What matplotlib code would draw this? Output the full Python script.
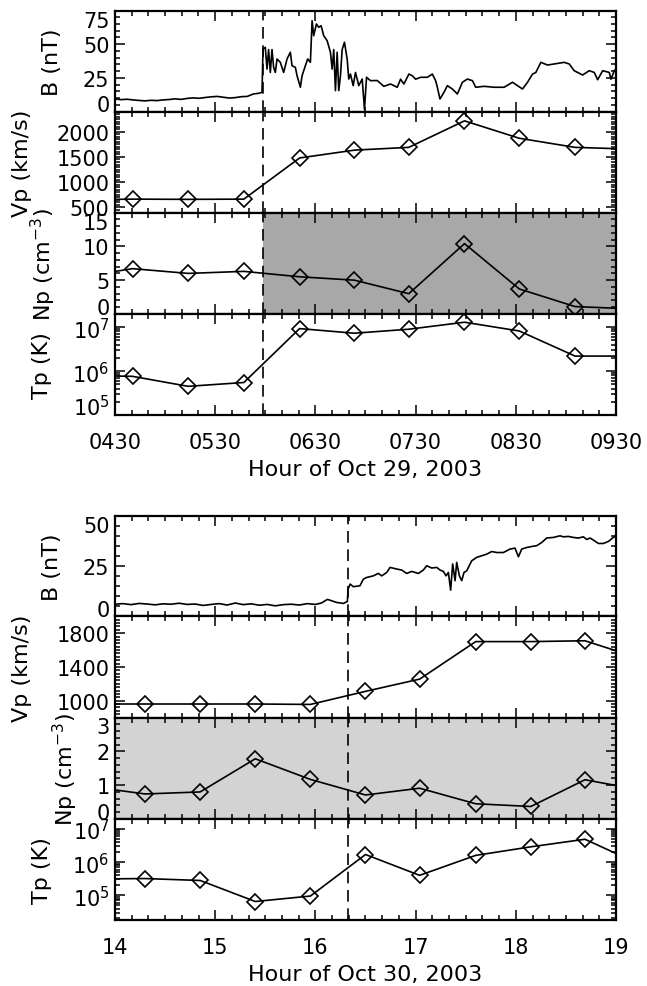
import numpy as np
import matplotlib
matplotlib.use("Agg")
import matplotlib.pyplot as plt
from matplotlib.ticker import FixedLocator, MultipleLocator, LogLocator, NullFormatter, FuncFormatter

plt.rcParams['font.family'] = ['DejaVu Sans']
plt.rcParams['mathtext.fontset'] = 'dejavusans'

# ---------------- Oct 29, 2003 ----------------
b1_t = [4.50, 4.56, 4.62, 4.68, 4.74, 4.80, 4.86, 4.92, 4.98, 5.04, 5.10, 5.16, 5.22, 5.28,
        5.34, 5.40, 5.46, 5.52, 5.58, 5.64, 5.70, 5.76, 5.82, 5.88, 5.94, 5.967, 5.977, 6.000,
        6.017, 6.033, 6.050, 6.067, 6.083, 6.100, 6.117, 6.150, 6.183, 6.217, 6.250, 6.267,
        6.300, 6.317, 6.350, 6.367, 6.400, 6.423, 6.450, 6.467, 6.483, 6.510, 6.533, 6.557,
        6.583, 6.617, 6.650, 6.667, 6.683, 6.700, 6.717, 6.733, 6.750, 6.767, 6.790, 6.817,
        6.833, 6.850, 6.877, 6.900, 6.933, 6.967, 6.990, 7.010, 7.050, 7.117, 7.183, 7.250,
        7.317, 7.350, 7.383, 7.433, 7.467, 7.500, 7.550, 7.617, 7.667, 7.700, 7.717, 7.743,
        7.783, 7.817, 7.867, 7.917, 7.967, 8.017, 8.067, 8.100, 8.183, 8.283, 8.383, 8.467,
        8.517, 8.567, 8.617, 8.667, 8.700, 8.750, 8.817, 8.883, 8.983, 9.033, 9.083, 9.167,
        9.233, 9.283, 9.317, 9.367, 9.433, 9.450, 9.483, 9.500]
b1_v = [9.3, 8.8, 9.1, 8.6, 8.2, 7.9, 8.3, 8.1, 8.6, 8.9, 9.4, 9.0, 9.7, 10.1,
        9.8, 10.4, 10.9, 11.2, 10.6, 10.0, 10.3, 11.0, 11.2, 13.0, 13.6, 14.2, 46.4, 47.6,
        31.5, 46.0, 29.0, 46.0, 32.8, 29.0, 39.0, 36.5, 29.0, 39.0, 44.0, 34.0,
        32.8, 26.6, 18.0, 26.6, 34.0, 39.0, 36.5, 67.4, 56.3, 65.0, 62.5, 63.7,
        56.3, 52.6, 44.0, 31.5, 46.0, 15.5, 44.0, 15.5, 26.6, 46.0, 51.4, 39.0,
        24.1, 27.8, 19.2, 29.0, 19.2, 24.1, 1.5, 25.4, 22.9, 23.0, 18.7, 20.4,
        18.0, 24.0, 20.4, 27.8, 26.6, 24.0, 25.4, 25.4, 27.8, 22.9, 18.0, 9.3,
        14.2, 19.2, 16.7, 13.0, 21.7, 24.1, 22.9, 18.0, 18.7, 18.0, 18.0, 21.7,
        19.2, 16.7, 21.7, 27.8, 29.0, 36.5, 34.5, 35.3, 36.5, 35.3, 30.3, 27.1,
        30.3, 29.0, 23.6, 30.3, 29.0, 24.0, 30.3, 31.5]

p1_t = [4.12, 4.675, 5.23, 5.786, 6.342, 6.889, 7.432, 7.988, 8.535, 9.091, 9.647]
vp1 = [650, 665, 660, 665, 1480, 1635, 1690, 2215, 1870, 1690, 1655]
np1 = [5.4, 6.7, 6.0, 6.3, 5.5, 5.0, 3.0, 10.4, 3.7, 1.1, 0.76]
tp1 = [8.0e5, 7.6e5, 4.5e5, 5.5e5, 9.3e6, 7.3e6, 9.0e6, 1.3e7, 8.2e6, 2.2e6, 2.2e6]
shock1 = 5.98
xt1 = [4.5, 5.5, 6.5, 7.5, 8.5, 9.5]
xt1_labels = ['0430', '0530', '0630', '0730', '0830', '0930']

# ---------------- Oct 30, 2003 ----------------
b2_t = [14.00, 14.08, 14.16, 14.24, 14.32, 14.40, 14.48, 14.56, 14.64, 14.72, 14.80, 14.88,
        14.96, 15.04, 15.12, 15.20, 15.28, 15.36, 15.44, 15.52, 15.60, 15.68, 15.76, 15.84,
        15.92, 16.00, 16.06, 16.12, 16.146, 16.21, 16.28, 16.319, 16.326, 16.346, 16.379,
        16.445, 16.479, 16.512, 16.578, 16.628, 16.662, 16.712, 16.745, 16.811, 16.861,
        16.911, 16.961, 17.028, 17.077, 17.111, 17.161, 17.211, 17.244, 17.277, 17.304,
        17.327, 17.350, 17.370, 17.394, 17.410, 17.437, 17.460, 17.483, 17.510, 17.560,
        17.610, 17.660, 17.710, 17.760, 17.810, 17.876, 17.942, 17.992, 18.026, 18.059,
        18.109, 18.159, 18.209, 18.259, 18.308, 18.375, 18.441, 18.475, 18.525, 18.574,
        18.624, 18.674, 18.708, 18.741, 18.774, 18.824, 18.874, 18.924, 18.974, 19.000]
b2_v = [6.0, 6.3, 5.8, 6.4, 6.1, 5.7, 6.2, 6.0, 6.5, 5.9, 6.1, 5.4,
        5.9, 6.3, 5.6, 6.6, 5.8, 6.2, 5.5, 5.9, 5.2, 5.8, 6.0, 5.6,
        6.3, 5.9, 6.6, 8.4, 8.0, 6.9, 6.4, 7.4, 13.5, 16.0, 14.7,
        15.2, 18.5, 19.3, 20.1, 21.3, 20.1, 21.8, 24.3, 23.5, 23.0,
        21.3, 22.3, 21.3, 23.0, 25.1, 24.0, 24.3, 23.0, 22.3, 20.1,
        21.8, 13.0, 26.0, 17.7, 26.8, 20.1, 17.7, 21.8, 22.6, 27.6,
        29.3, 30.1, 30.9, 32.2, 31.7, 31.7, 33.4, 33.9, 29.6, 33.4,
        34.2, 34.7, 35.1, 36.7, 38.9, 39.2, 40.0, 39.5, 39.7, 39.2,
        38.9, 39.5, 38.2, 38.9, 37.9, 36.2, 36.2, 37.2, 39.2, 40.0]

p2_t = [13.75, 14.30, 14.85, 15.40, 15.95, 16.50, 17.04, 17.60, 18.15, 18.69, 19.24]
vp2 = [960, 960, 960, 960, 955, 1110, 1255, 1700, 1700, 1710, 1500]
np2 = [0.96, 0.74, 0.80, 1.78, 1.17, 0.71, 0.91, 0.45, 0.37, 1.16, 0.86]
tp2 = [3.1e5, 3.2e5, 2.8e5, 6.5e4, 9.5e4, 1.7e6, 4.0e5, 1.6e6, 2.9e6, 4.9e6, 8.5e5]
shock2 = 16.33
xt2 = [14, 15, 16, 17, 18, 19]
xt2_labels = ['14', '15', '16', '17', '18', '19']

W, H = 647, 987
fig = plt.figure(figsize=(W / 100, H / 100), dpi=100)

TICK_FS = 15
LAB_FS = 16
AX_L, AX_W = 115, 501


def make_panel(y0, y1):
    ax = fig.add_axes([AX_L / W, 1 - y1 / H, AX_W / W, (y1 - y0) / H])
    for s in ax.spines.values():
        s.set_linewidth(1.6)
    ax.tick_params(which='both', direction='in', top=True, right=True,
                   labelsize=TICK_FS, width=1.1)
    ax.tick_params(which='major', length=7, pad=4)
    ax.tick_params(which='minor', length=3.5)
    ax.tick_params(axis='x', which='major', pad=12)
    return ax


def edge_align(ax, lo, hi):
    # labels at the ends of the axis are pulled inside the frame
    for loc, tk in zip(ax.yaxis.get_majorticklocs(), ax.yaxis.get_major_ticks()):
        if np.isclose(loc, lo):
            tk.label1.set_va('baseline')
        elif np.isclose(loc, hi):
            tk.label1.set_va('top')


def log_fmt(v, pos):
    return r'$10^{%d}$' % int(round(np.log10(v)))


def group(edges, xlim, xt, xtl, xlabel, shock, bt, bv, pt, vp, npv, tp,
          bcfg, vcfg, ncfg, tcfg, shade_from, shade_color, label_x):
    axes = [make_panel(edges[i], edges[i + 1]) for i in range(4)]
    axB, axV, axN, axT = axes

    axB.plot(bt, bv, color='k', lw=1.2)
    mk = dict(color='k', lw=1.2, marker='D', ms=8.5, mfc='none', mec='k', mew=1.2)
    axV.plot(pt, vp, **mk)
    axN.plot(pt, npv, **mk)
    axT.plot(pt, tp, **mk)
    axT.set_yscale('log')

    axN.axvspan(shade_from, xlim[1], color=shade_color, lw=0, zorder=0)

    for ax, (lo, hi, ticks, minor, lab) in zip([axB, axV, axN], [bcfg, vcfg, ncfg]):
        ax.set_ylim(lo, hi)
        ax.yaxis.set_major_locator(FixedLocator(ticks))
        ax.yaxis.set_minor_locator(MultipleLocator(minor))
        ax.set_ylabel(lab, fontsize=LAB_FS)
    tlo, thi, tticks, tlab = tcfg
    axT.set_ylim(tlo, thi)
    axT.yaxis.set_major_locator(FixedLocator(tticks))
    axT.yaxis.set_major_formatter(FuncFormatter(log_fmt))
    axT.yaxis.set_minor_locator(LogLocator(base=10, subs=np.arange(2, 10), numticks=20))
    axT.yaxis.set_minor_formatter(NullFormatter())
    axT.set_ylabel(tlab, fontsize=LAB_FS)

    for ax, lx in zip(axes, label_x):
        ax.yaxis.set_label_coords((lx - AX_L) / AX_W, 0.5)

    for ax in axes:
        ax.set_xlim(*xlim)
        ax.xaxis.set_major_locator(FixedLocator(xt))
        ax.xaxis.set_minor_locator(MultipleLocator(1 / 6))
        ax.axvline(shock, color='k', lw=1.2, dashes=(7, 4), zorder=3)
        if ax is not axT:
            ax.tick_params(axis='x', labelbottom=False)
    axT.set_xticklabels(xtl)
    axT.set_xlabel(xlabel, fontsize=LAB_FS, labelpad=5)

    for ax, cfg in zip([axB, axV, axN], [bcfg, vcfg, ncfg]):
        edge_align(ax, cfg[0], cfg[1])
    edge_align(axT, tlo, thi)
    return axes


top = group([11.5, 112.5, 213.5, 315, 416], (4.5, 9.5), xt1, xt1_labels,
            'Hour of Oct 29, 2003', shock1, b1_t, b1_v, p1_t, vp1, np1, tp1,
            (0, 75, [0, 25, 50, 75], 5, 'B (nT)'),
            (400, 2400, [500, 1000, 1500, 2000], 50, 'Vp (km/s)'),
            (0, 15, [0, 5, 10, 15], 1, r'Np (cm$^{-3}$)'),
            (1e5, 2e7, [1e5, 1e6, 1e7], 'Tp (K)'),
            shock1, '#a8a8a8', [62, 32, 58, 52])

bot = group([516.7, 617.3, 718.5, 820, 921], (14, 19), xt2, xt2_labels,
            'Hour of Oct 30, 2003', shock2, b2_t, b2_v, p2_t, vp2, np2, tp2,
            (0, 50, [0, 25, 50], 5, 'B (nT)'),
            (800, 2000, [1000, 1400, 1800], 40, 'Vp (km/s)'),
            (0, 3, [0, 1, 2, 3], 0.2, r'Np (cm$^{-3}$)'),
            (1.8e4, 2e7, [1e5, 1e6, 1e7], 'Tp (K)'),
            14, '#d3d3d3', [62, 32, 80, 52])

fig.savefig('out.png', dpi=100)
